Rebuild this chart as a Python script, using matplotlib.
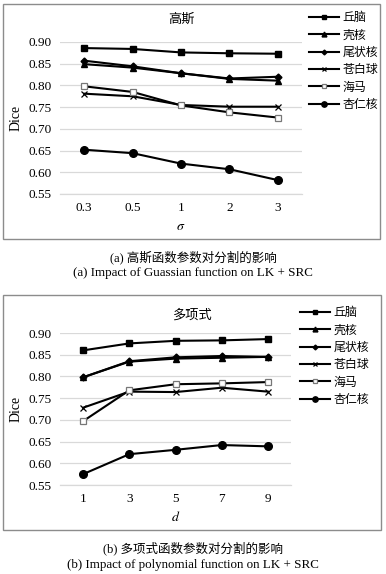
import matplotlib
matplotlib.use("Agg")
import matplotlib.pyplot as plt
from matplotlib.patches import Rectangle

plt.rcParams['font.family'] = ['Liberation Serif', 'Noto Sans CJK SC', 'DejaVu Sans']
plt.rcParams['mathtext.fontset'] = 'stix'

series_names = ['丘脑', '壳核', '尾状核', '苍白球', '海马', '杏仁核']

sigma_labels = ['0.3', '0.5', '1', '2', '3']
gauss_thalamus = [0.886, 0.884, 0.876, 0.874, 0.873]
gauss_putamen = [0.849, 0.841, 0.828, 0.815, 0.811]
gauss_caudate = [0.857, 0.844, 0.828, 0.816, 0.820]
gauss_pallidum = [0.781, 0.775, 0.755, 0.751, 0.751]
gauss_hippocampus = [0.798, 0.785, 0.754, 0.738, 0.726]
gauss_amygdala = [0.652, 0.644, 0.620, 0.607, 0.582]

d_labels = ['1', '3', '5', '7', '9']
poly_thalamus = [0.860, 0.876, 0.882, 0.883, 0.886]
poly_putamen = [0.798, 0.834, 0.841, 0.843, 0.845]
poly_caudate = [0.798, 0.835, 0.844, 0.847, 0.845]
poly_pallidum = [0.728, 0.765, 0.764, 0.774, 0.765]
poly_hippocampus = [0.697, 0.768, 0.782, 0.784, 0.787]
poly_amygdala = [0.575, 0.621, 0.631, 0.642, 0.639]

y_ticks = [0.55, 0.60, 0.65, 0.70, 0.75, 0.80, 0.85, 0.90]

W, H = 386, 574
fig = plt.figure(figsize=(W / 100, H / 100), dpi=100)

def fx(px):
    return px / W

def fy(py):
    return 1 - py / H

styles = [
    dict(marker='s', ms=5, mfc='black', mec='black'),
    dict(marker='^', ms=5, mfc='black', mec='black'),
    dict(marker='D', ms=3.5, mfc='black', mec='black'),
    dict(marker='x', ms=5, mfc='none', mec='black', mew=0.9),
    dict(marker='s', ms=5, mfc='white', mec='#777777', mew=0.9),
    dict(marker='o', ms=5.5, mfc='black', mec='black'),
]

def panel(frame, axbox, labels, data, title, title_xy, xlabel, xlabel_y,
          legend_xy, cap1, cap2, cap_y):
    x0, y0, x1, y1 = frame
    fig.add_artist(Rectangle((fx(x0), fy(y1)), fx(x1) - fx(x0), fy(y0) - fy(y1),
                             transform=fig.transFigure, fill=False,
                             edgecolor='#8c8c8c', lw=1.0))
    l, t, r, b = axbox
    ax = fig.add_axes([fx(l), fy(b), fx(r) - fx(l), fy(t) - fy(b)])
    xs = list(range(len(labels)))
    lines = []
    for name, vals, st in zip(series_names, data, styles):
        ln, = ax.plot(xs, vals, color='black', lw=1.5, label=name, **st)
        lines.append(ln)
    ax.set_xlim(-0.5, len(labels) - 0.5)
    ax.set_ylim(0.55, 0.90)
    ax.set_yticks(y_ticks)
    ax.set_yticklabels([f'{v:.2f}' for v in y_ticks], fontsize=9.5)
    ax.set_xticks(xs)
    ax.set_xticklabels(labels, fontsize=9.5)
    ax.tick_params(length=0, pad=6)
    ax.grid(axis='y', color='#d9d9d9', lw=0.9)
    ax.set_axisbelow(True)
    for s in ['top', 'right', 'left']:
        ax.spines[s].set_visible(False)
    ax.spines['bottom'].set_color('#d9d9d9')
    ax.spines['bottom'].set_linewidth(0.9)
    ax.set_ylabel('Dice', fontsize=10, labelpad=4)
    ax.patch.set_alpha(0)
    fig.text(fx(title_xy[0]), fy(title_xy[1]), title, ha='center', va='center', fontsize=9.5)
    fig.text(fx((l + r) / 2), fy(xlabel_y), xlabel, ha='center', va='center', fontsize=10)
    fig.legend(handles=lines, loc='upper left',
               bbox_to_anchor=(fx(legend_xy[0]), fy(legend_xy[1])),
               frameon=False, fontsize=8.6, handlelength=2.5, handletextpad=0.3,
               labelspacing=0.45, borderaxespad=0, borderpad=0, markerscale=0.7)
    fig.text(0.5, fy(cap_y[0]), cap1, ha='center', va='center', fontsize=9)
    fig.text(0.5, fy(cap_y[1]), cap2, ha='center', va='center', fontsize=9.4)
    return ax

panel((3, 4, 380, 239), (60, 42, 302, 194), sigma_labels,
      [gauss_thalamus, gauss_putamen, gauss_caudate, gauss_pallidum,
       gauss_hippocampus, gauss_amygdala],
      '高斯', (181, 20), r'$\sigma$', 227, (309, 12),
      '(a) 高斯函数参数对分割的影响', '(a) Impact of Guassian function on LK + SRC',
      (257, 273))

panel((3, 295, 381, 530), (60, 333, 291, 485), d_labels,
      [poly_thalamus, poly_putamen, poly_caudate, poly_pallidum,
       poly_hippocampus, poly_amygdala],
      '多项式', (192, 315), r'$d$', 517, (300, 307),
      '(b) 多项式函数参数对分割的影响', '(b) Impact of polynomial function on LK + SRC',
      (548, 565))

fig.savefig('out.png', dpi=100, facecolor='white')
